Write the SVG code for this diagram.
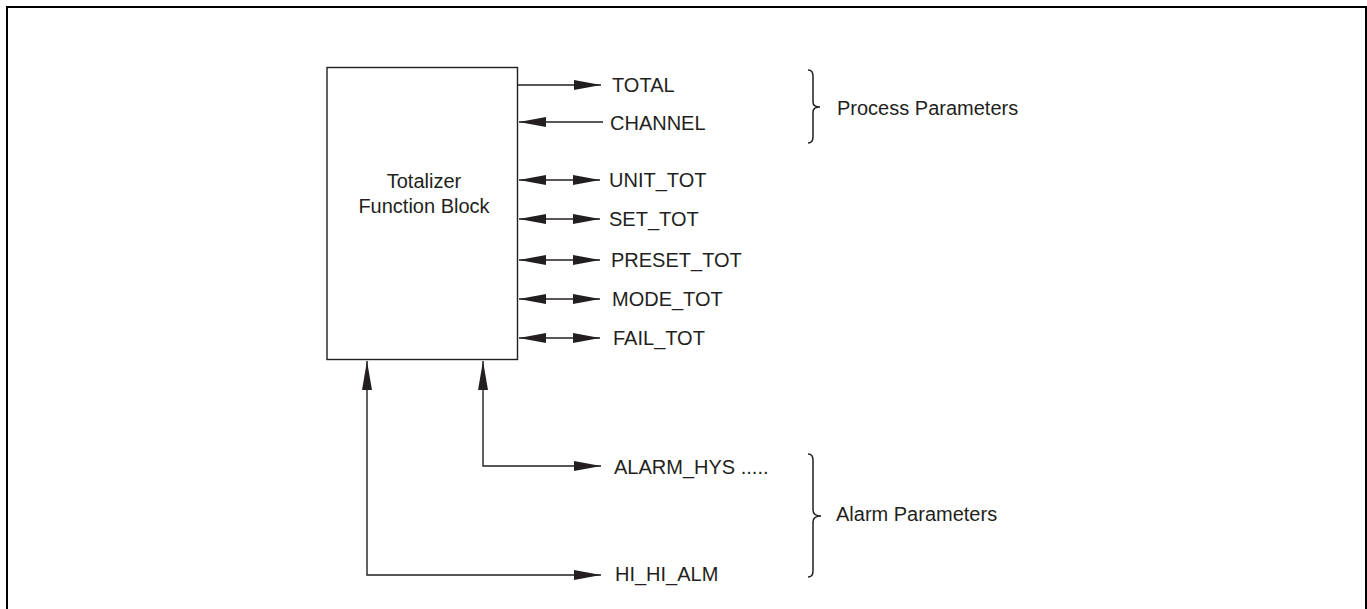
<svg xmlns="http://www.w3.org/2000/svg" width="1367" height="609" viewBox="0 0 1367 609">
<style>
text{font-family:"Liberation Sans",Arial,sans-serif;font-size:20px;fill:#231f20}
.ln{fill:none;stroke:#231f20;stroke-width:1.4}
.br{fill:none;stroke:#231f20;stroke-width:1.5}
</style>
<defs>
<marker id="ah" viewBox="0 0 27 10" refX="27" refY="5" markerWidth="27" markerHeight="10" markerUnits="userSpaceOnUse" orient="auto-start-reverse">
<path d="M0,0 L27,5 L0,10 Z" fill="#231f20"/>
</marker>
<marker id="av" viewBox="0 0 29 10" refX="29" refY="5" markerWidth="29" markerHeight="10" markerUnits="userSpaceOnUse" orient="auto">
<path d="M0,0 L29,5 L0,10 Z" fill="#231f20"/>
</marker>
</defs>
<rect x="7" y="7" width="1359" height="612" fill="none" stroke="#000" stroke-width="2"/>
<g id="block">
<rect x="327" y="67.5" width="190.5" height="292" fill="#fff" stroke="#231f20" stroke-width="1.4"/>
<text x="424" y="188" text-anchor="middle">Totalizer</text>
<text x="424" y="213" text-anchor="middle">Function Block</text>
</g>
<g id="connectors">
<line class="ln" x1="518" y1="85" x2="601" y2="85" marker-end="url(#ah)"/>
<line class="ln" x1="603" y1="122" x2="519" y2="122" marker-end="url(#ah)"/>
<line class="ln" x1="519" y1="180" x2="600" y2="180" marker-start="url(#ah)" marker-end="url(#ah)"/>
<line class="ln" x1="519" y1="219" x2="600" y2="219" marker-start="url(#ah)" marker-end="url(#ah)"/>
<line class="ln" x1="519" y1="260" x2="600" y2="260" marker-start="url(#ah)" marker-end="url(#ah)"/>
<line class="ln" x1="519" y1="299" x2="600" y2="299" marker-start="url(#ah)" marker-end="url(#ah)"/>
<line class="ln" x1="519" y1="338" x2="600" y2="338" marker-start="url(#ah)" marker-end="url(#ah)"/>
<polyline class="ln" points="601,466 483,466 483,361" marker-start="url(#ah)" marker-end="url(#av)"/>
<polyline class="ln" points="601,575 367,575 367,361" marker-start="url(#ah)" marker-end="url(#av)"/>
</g>
<g id="labels">
<text x="612" y="92">TOTAL</text>
<text x="610" y="130">CHANNEL</text>
<text x="609" y="187">UNIT_TOT</text>
<text x="609" y="226">SET_TOT</text>
<text x="611" y="267">PRESET_TOT</text>
<text x="612" y="306">MODE_TOT</text>
<text x="613" y="345">FAIL_TOT</text>
<text x="614" y="474">ALARM_HYS .....</text>
<text x="615" y="581">HI_HI_ALM</text>
</g>
<g id="process-group">
<path class="br" d="M808,70 Q813,70 813,76 L813,102 Q813,107 820,107 Q813,107 813,112 L813,137 Q813,143 808,143"/>
<text x="837" y="115">Process Parameters</text>
</g>
<g id="alarm-group">
<path class="br" d="M808,454 Q813,454 813,460 L813,510 Q813,516 821,516 Q813,516 813,522 L813,571 Q813,577 808,577"/>
<text x="836" y="521">Alarm Parameters</text>
</g>
</svg>
